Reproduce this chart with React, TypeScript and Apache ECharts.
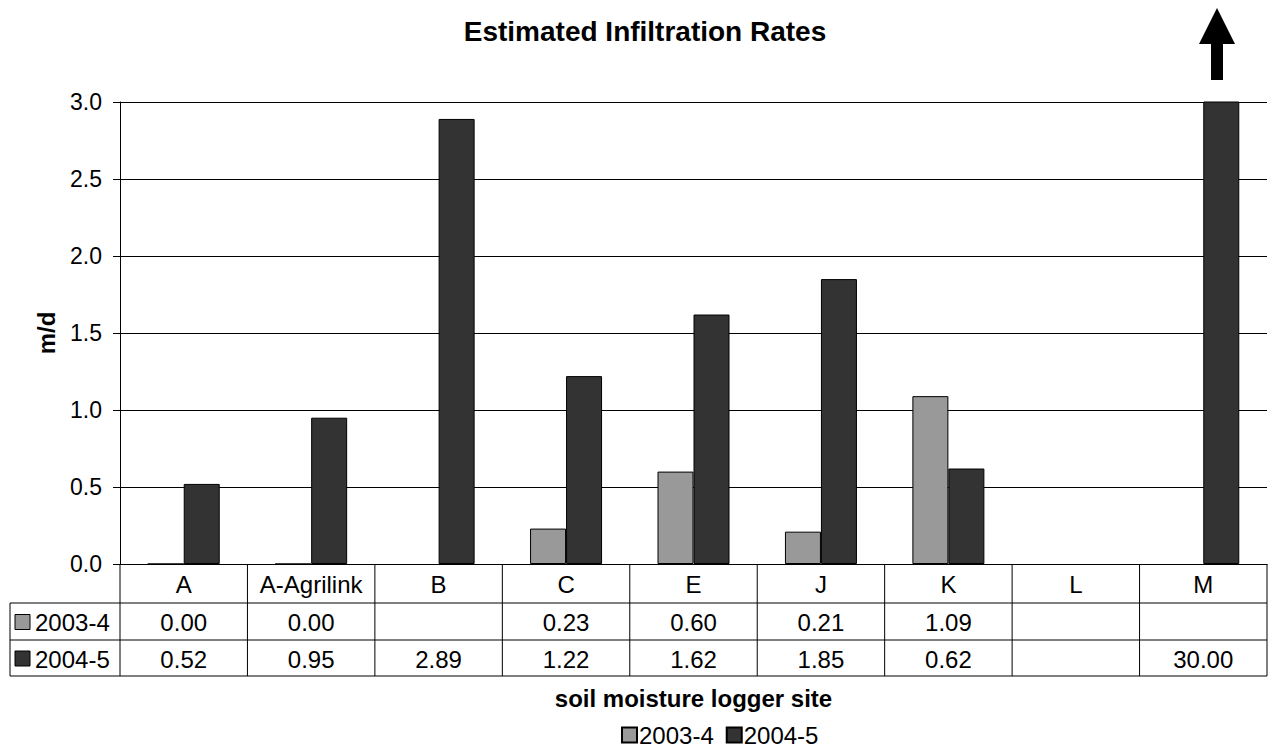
import React, { useEffect, useRef } from "react";
import * as echarts from "echarts";

const categories = ["A", "A-Agrilink", "B", "C", "E", "J", "K", "L", "M"];
const seriesNames = ["2003-4", "2004-5"];
const rates2003 = [0.0, 0.0, null, 0.23, 0.6, 0.21, 1.09, null, null];
const rates2004 = [0.52, 0.95, 2.89, 1.22, 1.62, 1.85, 0.62, null, 30.0];
const seriesColors = ["#999999", "#333333"];
const yMin = 0;
const yMax = 3;
const yInterval = 0.5;

const W = 1271;
const H = 749;
const FONT = '"Liberation Sans", Arial, Helvetica, sans-serif';

export default function App() {
  const ref = useRef<HTMLDivElement>(null);

  useEffect(() => {
    document.body.style.margin = "0";
    if (!ref.current) return;
    const chart = echarts.init(ref.current, undefined, { renderer: "svg" });

    const gridLeft = 120;
    const gridRightX = 1267;
    const gridTop = 102;
    const axisY = 564;
    const rowEdges = [564, 603, 640, 676];
    const tableLeft = 10;
    const cw = (gridRightX - gridLeft) / categories.length;
    const fs = 24;

    const graphics: any[] = [];
    const line = (x1: number, y1: number, x2: number, y2: number) =>
      graphics.push({
        type: "line",
        shape: { x1, y1, x2, y2 },
        style: { stroke: "#000", lineWidth: 1 },
        silent: true,
      });
    // horizontal rules of the data table
    for (let r = 1; r < rowEdges.length; r++) line(tableLeft, rowEdges[r], gridRightX, rowEdges[r]);
    line(tableLeft, rowEdges[1], tableLeft, rowEdges[3]);
    for (let k = 0; k <= categories.length; k++) {
      const x = gridLeft + k * cw;
      line(x, rowEdges[0], x, rowEdges[3]);
    }
    const rows = [rates2003, rates2004];
    rows.forEach((vals, r) => {
      const cy = (rowEdges[r + 1] + rowEdges[r + 2]) / 2;
      graphics.push({
        type: "rect",
        shape: { x: 15, y: cy - 7, width: 15, height: 15 },
        style: { fill: seriesColors[r], stroke: "#000", lineWidth: 1 },
        silent: true,
      });
      graphics.push({
        type: "text",
        x: 35,
        y: cy + 1,
        style: {
          text: seriesNames[r],
          fontSize: fs,
          fontFamily: FONT,
          fill: "#000",
          align: "left",
          verticalAlign: "middle",
        },
        silent: true,
      });
      vals.forEach((v, i) => {
        graphics.push({
          type: "text",
          x: gridLeft + (i + 0.5) * cw,
          y: cy + 1,
          style: {
            text: v == null ? "" : v.toFixed(2),
            fontSize: fs,
            fontFamily: FONT,
            fill: "#000",
            align: "center",
            verticalAlign: "middle",
          },
          silent: true,
        });
      });
    });
    // off-scale arrow above M
    graphics.push({
      type: "polygon",
      shape: {
        points: [
          [1217, 8],
          [1235, 44],
          [1223, 44],
          [1223, 80],
          [1211, 80],
          [1211, 44],
          [1199, 44],
        ],
      },
      style: { fill: "#000" },
      silent: true,
    });

    chart.setOption({
      animation: false,
      backgroundColor: "#fff",
      textStyle: { fontFamily: FONT, color: "#000" },
      title: {
        text: "Estimated Infiltration Rates",
        left: 645,
        textAlign: "center",
        top: 17,
        padding: 0,
        textStyle: { fontSize: 28, fontWeight: "bold", color: "#000", fontFamily: FONT },
      },
      legend: {
        data: seriesNames,
        left: 621,
        top: 723,
        padding: 0,
        icon: "rect",
        itemWidth: 15,
        itemHeight: 15,
        itemGap: 12,
        textStyle: {
          fontSize: 24,
          lineHeight: 24,
          color: "#000",
          fontFamily: FONT,
          padding: [0, 0, 0, -3],
        },
      },
      grid: {
        left: gridLeft,
        right: W - gridRightX,
        top: gridTop,
        bottom: H - axisY,
        containLabel: false,
      },
      xAxis: {
        type: "category",
        data: categories,
        name: "soil moisture logger site",
        nameLocation: "middle",
        nameGap: 122,
        nameTextStyle: { fontSize: 24, fontWeight: "bold", color: "#000", fontFamily: FONT },
        axisLine: { lineStyle: { color: "#000", width: 1 } },
        axisTick: { show: false },
        axisLabel: { fontSize: fs, color: "#000", margin: 8, interval: 0, fontFamily: FONT },
      },
      yAxis: {
        type: "value",
        min: yMin,
        max: yMax,
        interval: yInterval,
        name: "m/d",
        nameLocation: "middle",
        nameRotate: 90,
        nameGap: 62,
        nameTextStyle: { fontSize: 24, fontWeight: "bold", color: "#000", fontFamily: FONT },
        axisLine: { show: true, lineStyle: { color: "#000", width: 1 } },
        axisTick: { show: true, inside: false, length: 7, lineStyle: { color: "#000" } },
        axisLabel: {
          fontSize: 23,
          color: "#000",
          margin: 18,
          fontFamily: FONT,
          formatter: (v: number) => v.toFixed(1),
        },
        splitLine: { show: true, lineStyle: { color: "#000", width: 1 } },
      },
      series: [
        {
          name: seriesNames[0],
          type: "bar",
          data: rates2003,
          barWidth: 36,
          barGap: "0%",
          clip: true,
          itemStyle: { color: seriesColors[0], borderColor: "#000", borderWidth: 1 },
        },
        {
          name: seriesNames[1],
          type: "bar",
          data: rates2004,
          barWidth: 36,
          barGap: "0%",
          clip: true,
          itemStyle: { color: seriesColors[1], borderColor: "#000", borderWidth: 1 },
        },
      ],
      graphic: graphics,
    });

    return () => chart.dispose();
  }, []);

  return <div ref={ref} style={{ width: W, height: H }} />;
}
